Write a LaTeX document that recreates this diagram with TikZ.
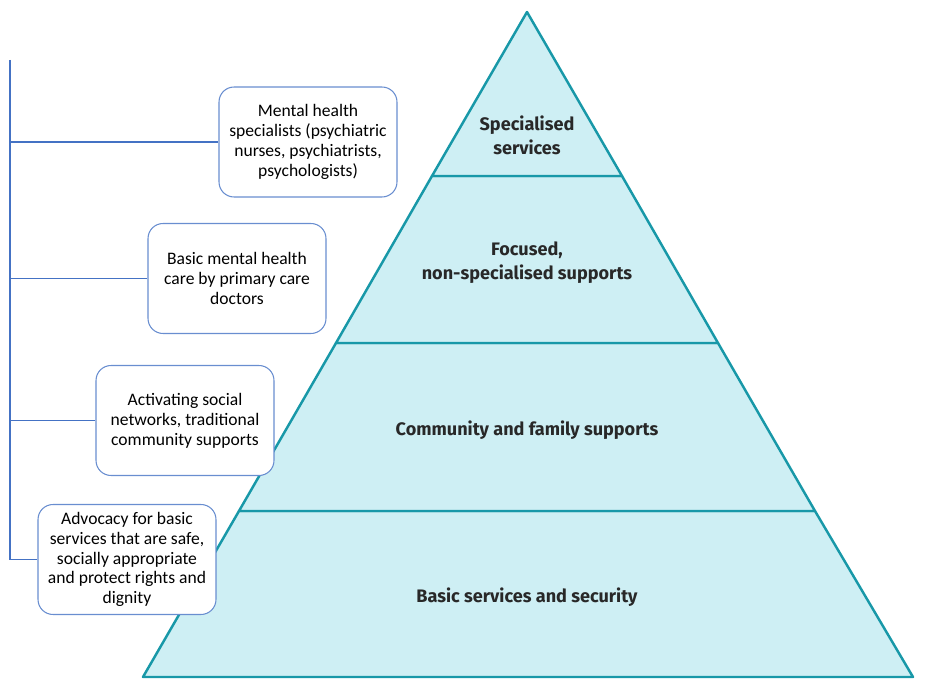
\documentclass[tikz,border=0pt]{standalone}
\usepackage{fontspec}
\setmainfont{Carlito}
\newfontfamily\tierfont{Fira Sans}
\definecolor{tealline}{RGB}{24,152,168}
\definecolor{tierfill}{RGB}{206,239,244}
\definecolor{officeblue}{RGB}{68,114,196}
\definecolor{tiertext}{RGB}{40,40,40}
\tikzset{
  tier/.style={draw=tealline, fill=tierfill, line width=1.4pt, line join=round},
  tierlabel/.style={font=\tierfont\bfseries\fontsize{10.3}{13.5}\selectfont, text=tiertext, align=center},
  levelbox/.style={draw=officeblue!80, rounded corners=0.3cm, fill=white, line width=0.6pt,
    minimum width=3.56cm, minimum height=2.2cm, align=center,
    font=\fontsize{10}{11.3}\selectfont},
  branch/.style={draw=officeblue, line width=0.6pt}
}
\begin{document}
\begin{tikzpicture}[x=0.02cm, y=-0.02cm]
      \useasboundingbox (0,0) rectangle (951,682);
      % pyramid
      \draw[tier] (143,677) -- (239,511) -- (815,511) -- (913,677) -- cycle;
      \draw[tier] (239,511) -- (336,343) -- (718,343) -- (815,511) -- cycle;
      \draw[tier] (336,343) -- (432,176) -- (622,176) -- (718,343) -- cycle;
      \draw[tier] (432,176) -- (527,12) -- (622,176) -- cycle;
      \node[tierlabel] (spec) at (527,135) {Specialised\\services};
      \node[tierlabel] (focus) at (527,263) {Focused,\\non-specialised supports};
      \node[tierlabel] (comm) at (527,430) {Community and family supports};
      \node[tierlabel] (basic) at (527,597) {Basic services and security};
      % boxes on the left
      \node[levelbox] (box1) at (308,142) {Mental health\\specialists (psychiatric\\nurses, psychiatrists,\\psychologists)};
      \node[levelbox] (box2) at (237,278.5) {Basic mental health\\care by primary care\\doctors};
      \node[levelbox] (box3) at (185,420.5) {Activating social\\networks, traditional\\community supports};
      \node[levelbox] (box4) at (127,559.5) {Advocacy for basic\\services that are safe,\\socially appropriate\\and protect rights and\\dignity};
      % tree lines
      \coordinate (top) at (10,60);
      \coordinate (b1) at (10,142);
      \coordinate (b2) at (10,278.5);
      \coordinate (b3) at (10,420.5);
      \coordinate (b4) at (10,559.5);
      \draw[branch] (top) -- (b4) -- (box4.west);
      \draw[branch] (b1) -- (box1.west);
      \draw[branch] (b2) -- (box2.west);
      \draw[branch] (b3) -- (box3.west);
    \end{tikzpicture}
\end{document}
